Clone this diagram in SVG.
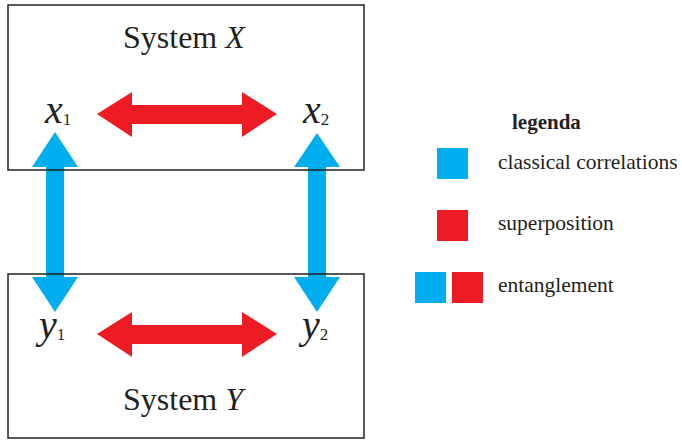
<svg xmlns="http://www.w3.org/2000/svg" width="682" height="440" viewBox="0 0 682 440">
<style>
.bg{fill:#fff}
.box{fill:none;stroke:#231f20;stroke-width:1.5}
.t{font-family:'Liberation Serif',serif;fill:#231f20}
.it{font-style:italic}
.blue{fill:#00aeef}
.red{fill:#ed1c24}
</style>
<rect class="bg" x="0" y="0" width="682" height="440"/>
<g id="connectors">
<polygon class="blue" points="55,132 78,167 64,167 64,277 78,277 55,312 32,277 46,277 46,167 32,167"/>
<polygon class="blue" points="317,133 340,167 326,167 326,277 340,277 317,312 294,277 308,277 308,167 294,167"/>
<polygon class="red" points="97,114 132,92 132,105 242,105 242,92 277,114 242,137 242,124 132,124 132,137"/>
<polygon class="red" points="97,334 132,312 132,325 242,325 242,312 277,334 242,357 242,344 132,344 132,357"/>
</g>
<g id="systemX">
<rect class="box" x="8" y="5" width="356" height="165"/>
<text class="t" x="123" y="48" font-size="32">System <tspan class="it">X</tspan></text>
</g>
<g id="systemY">
<rect class="box" x="8" y="274" width="356" height="164"/>
<text class="t" x="123" y="410" font-size="32">System <tspan class="it">Y</tspan></text>
</g>
<g id="x1"><text class="t" x="45" y="123"><tspan class="it" font-size="40">x</tspan><tspan font-size="17" dy="2">1</tspan></text></g>
<g id="x2"><text class="t" x="303" y="123"><tspan class="it" font-size="40">x</tspan><tspan font-size="17" dy="2">2</tspan></text></g>
<g id="y1"><text class="t" x="39" y="338"><tspan class="it" font-size="40">y</tspan><tspan font-size="17" dy="2">1</tspan></text></g>
<g id="y2"><text class="t" x="302" y="338"><tspan class="it" font-size="40">y</tspan><tspan font-size="17" dy="2">2</tspan></text></g>
<g id="legend">
<text class="t" x="512" y="129" font-size="21" font-weight="bold">legenda</text>
<rect class="blue" x="437" y="148" width="31" height="31"/>
<text class="t" x="498" y="169" font-size="21.5">classical correlations</text>
<rect class="red" x="437" y="210" width="31" height="31"/>
<text class="t" x="498" y="230" font-size="21.5">superposition</text>
<rect class="blue" x="415" y="272" width="31" height="31"/>
<rect class="red" x="452" y="272" width="31" height="31"/>
<text class="t" x="498" y="292" font-size="21.5">entanglement</text>
</g>
</svg>
